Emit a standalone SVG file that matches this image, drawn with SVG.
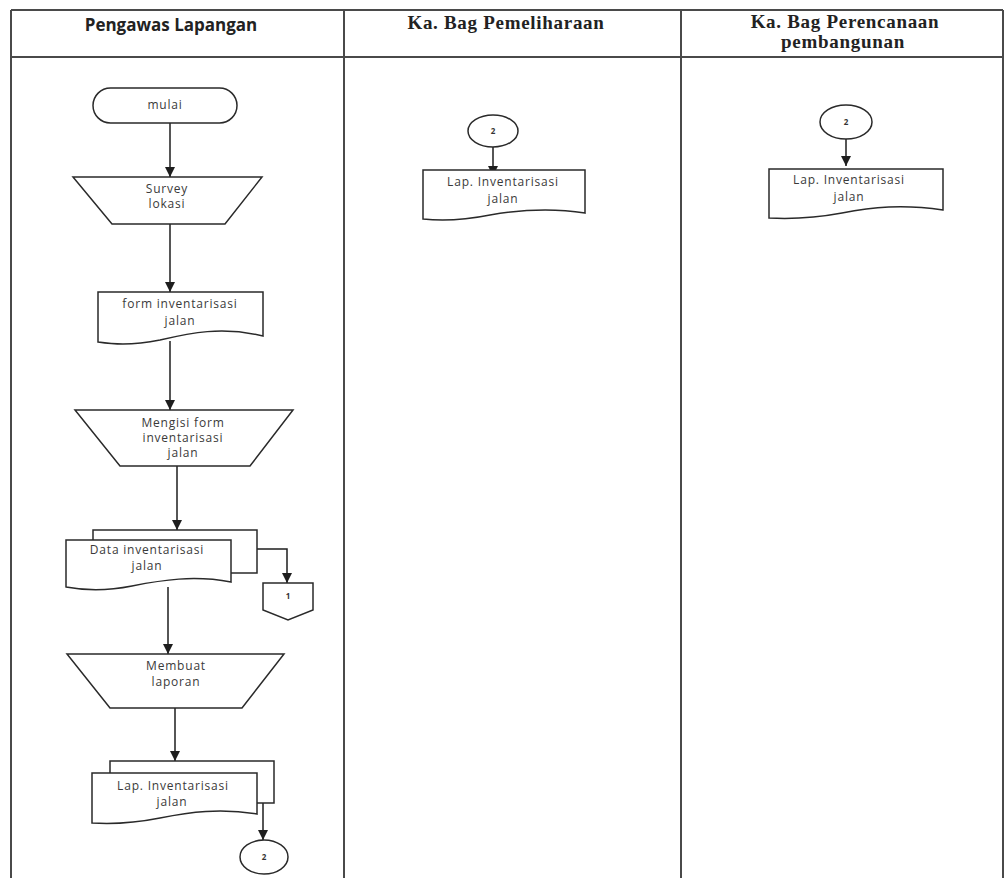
<svg xmlns="http://www.w3.org/2000/svg" width="1005" height="878" viewBox="0 0 1005 878">
  <style>
    .grid { stroke: #4a4a4a; stroke-width: 2; fill: none; }
    .shape { fill: #ffffff; stroke: #2a2a2a; stroke-width: 1.5; }
    .edge { fill: none; stroke: #1e1e1e; stroke-width: 1.5; }
    .lbl { font-family: "Open Sans", "DejaVu Sans", sans-serif; font-size: 12px; fill: #3a3a3a; text-anchor: middle; letter-spacing: 0.8px; }
    .tiny { font-family: "Open Sans", "DejaVu Sans", sans-serif; font-size: 8px; fill: #333; text-anchor: middle; font-weight: bold; }
    .hd-sans { font-family: "Open Sans", "Liberation Sans", sans-serif; font-size: 17px; font-weight: bold; fill: #222; text-anchor: middle; }
    .hd-serif { font-family: "Liberation Serif", "DejaVu Serif", serif; font-size: 19px; font-weight: bold; fill: #222; text-anchor: middle; letter-spacing: 0.7px; }
  </style>
  <defs>
    <marker id="arrow" viewBox="0 0 10 10" refX="10" refY="5" markerWidth="10" markerHeight="10" markerUnits="userSpaceOnUse" orient="auto">
      <path d="M0,0 L10,5 L0,10 Z" fill="#1e1e1e"/>
    </marker>
  </defs>

  <rect width="1005" height="878" fill="#ffffff"/>

  <!-- swimlane table -->
  <g id="lanes">
    <line class="grid" x1="11" y1="10" x2="1003" y2="10"/>
    <line class="grid" x1="11" y1="57" x2="1003" y2="57"/>
    <line class="grid" x1="11" y1="10" x2="11" y2="878"/>
    <line class="grid" x1="344" y1="10" x2="344" y2="878"/>
    <line class="grid" x1="681" y1="10" x2="681" y2="878"/>
    <line class="grid" x1="1003" y1="10" x2="1003" y2="878"/>
    <text class="hd-sans" x="171" y="31">Pengawas Lapangan</text>
    <text class="hd-serif" x="506" y="29">Ka. Bag Pemeliharaan</text>
    <text class="hd-serif" x="845" y="28">Ka. Bag Perencanaan</text>
    <text class="hd-serif" x="843" y="48">pembangunan</text>
  </g>

  <!-- connectors -->
  <g id="connectors">
    <line class="edge" x1="170" y1="123" x2="170" y2="177" marker-end="url(#arrow)"/>
    <line class="edge" x1="170" y1="224" x2="170" y2="292" marker-end="url(#arrow)"/>
    <line class="edge" x1="170" y1="341" x2="170" y2="410" marker-end="url(#arrow)"/>
    <line class="edge" x1="177" y1="466" x2="177" y2="530" marker-end="url(#arrow)"/>
    <polyline class="edge" points="257,549 287,549 287,583" marker-end="url(#arrow)"/>
    <line class="edge" x1="168" y1="587" x2="168" y2="654" marker-end="url(#arrow)"/>
    <line class="edge" x1="175" y1="708" x2="175" y2="761" marker-end="url(#arrow)"/>
    <line class="edge" x1="263" y1="803" x2="263" y2="840" marker-end="url(#arrow)"/>
    <line class="edge" x1="493" y1="147" x2="493" y2="176" marker-end="url(#arrow)"/>
    <line class="edge" x1="846" y1="139" x2="846" y2="166" marker-end="url(#arrow)"/>
  </g>

  <!-- Pengawas Lapangan -->
  <g id="mulai">
    <rect class="shape" x="93" y="88" width="144" height="35" rx="17.5"/>
    <text class="lbl" x="165" y="109">mulai</text>
  </g>

  <g id="survey-lokasi">
    <polygon class="shape" points="73,177 262,177 225,224 112,224"/>
    <text class="lbl" x="167" y="193">Survey</text>
    <text class="lbl" x="167" y="208">lokasi</text>
  </g>

  <g id="form-inventarisasi">
    <path class="shape" d="M98,292 H263 V336 C222,326 190,333 160,340 C130,346 112,344 98,342 Z"/>
    <text class="lbl" x="180" y="308">form inventarisasi</text>
    <text class="lbl" x="180" y="325">jalan</text>
  </g>

  <g id="mengisi-form">
    <polygon class="shape" points="75,410 293,410 250,466 120,466"/>
    <text class="lbl" x="183" y="427">Mengisi form</text>
    <text class="lbl" x="183" y="442">inventarisasi</text>
    <text class="lbl" x="183" y="457">jalan</text>
  </g>

  <g id="data-inventarisasi">
    <polyline class="shape" points="93,540 93,530 257,530 257,573 231,573"/>
    <path class="shape" d="M66,540 H231 V582 C194,575 162,580 132,586 C102,592 82,590 66,587 Z"/>
    <text class="lbl" x="147" y="554">Data inventarisasi</text>
    <text class="lbl" x="147" y="570">jalan</text>
  </g>

  <g id="offpage-1">
    <polygon class="shape" points="263,583 313,583 313,610 288,620 263,610"/>
    <text class="tiny" x="288" y="599">1</text>
  </g>

  <g id="membuat-laporan">
    <polygon class="shape" points="67,654 284,654 242,708 110,708"/>
    <text class="lbl" x="176" y="670">Membuat</text>
    <text class="lbl" x="176" y="686">laporan</text>
  </g>

  <g id="lap-inventarisasi-1">
    <polyline class="shape" points="110,773 110,761 274,761 274,803 257,803"/>
    <path class="shape" d="M92,773 H257 V814 C220,808 190,812 160,818 C130,824 108,824 92,823 Z"/>
    <text class="lbl" x="173" y="790">Lap. Inventarisasi</text>
    <text class="lbl" x="172" y="806">jalan</text>
  </g>

  <g id="connector-2a">
    <ellipse class="shape" cx="264" cy="857" rx="24" ry="17"/>
    <text class="tiny" x="264" y="860">2</text>
  </g>

  <!-- Ka. Bag Pemeliharaan -->
  <g id="connector-2b">
    <ellipse class="shape" cx="493" cy="131" rx="25" ry="16"/>
    <text class="tiny" x="493" y="134">2</text>
  </g>

  <g id="lap-inventarisasi-2">
    <path class="shape" d="M423,170 H585 V213 C548,207 518,210 490,215 C460,221 440,221 423,219 Z"/>
    <text class="lbl" x="503" y="186">Lap. Inventarisasi</text>
    <text class="lbl" x="503" y="203">jalan</text>
  </g>

  <!-- Ka. Bag Perencanaan pembangunan -->
  <g id="connector-2c">
    <ellipse class="shape" cx="846" cy="122" rx="26" ry="17"/>
    <text class="tiny" x="846" y="125">2</text>
  </g>

  <g id="lap-inventarisasi-3">
    <path class="shape" d="M769,169 H943 V210 C903,204 872,207 842,213 C810,219 788,219 769,218 Z"/>
    <text class="lbl" x="849" y="184">Lap. Inventarisasi</text>
    <text class="lbl" x="849" y="201">jalan</text>
  </g>
</svg>
